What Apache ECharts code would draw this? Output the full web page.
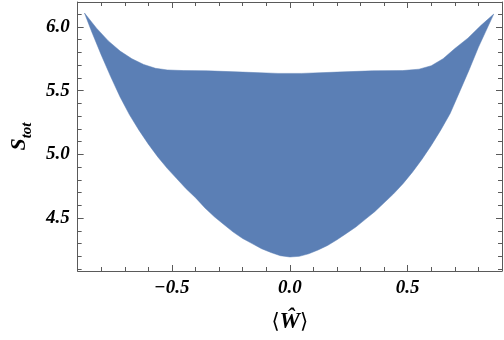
<!DOCTYPE html>
<html>
<head>
<meta charset="utf-8">
<script src="https://cdn.jsdelivr.net/npm/echarts@6/dist/echarts.min.js"></script>
<style>
  html, body { margin: 0; padding: 0; background: #fff; }
  #chart { width: 504px; height: 340px; }
</style>
</head>
<body>
<div id="chart"></div>
<script>
// outline of the point cloud
var upperX = [-0.871, -0.82, -0.77, -0.72, -0.67, -0.62, -0.57, -0.52, -0.45, -0.35, -0.2, -0.05, 0.05, 0.2, 0.35, 0.479, 0.548, 0.60, 0.65, 0.70, 0.755, 0.81, 0.865]
var upperY = [6.108, 5.99, 5.89, 5.81, 5.75, 5.705, 5.675, 5.662, 5.657, 5.655, 5.645, 5.635, 5.635, 5.645, 5.655, 5.657, 5.668, 5.695, 5.75, 5.83, 5.911, 6.01, 6.10]
var lowerX = [-0.871, -0.84, -0.80, -0.76, -0.72, -0.68, -0.64, -0.60, -0.56, -0.52, -0.48, -0.44, -0.40, -0.36, -0.32, -0.28, -0.24, -0.20, -0.16, -0.12, -0.08, -0.04, 0, 0.04, 0.08, 0.12, 0.16, 0.20, 0.24, 0.28, 0.32, 0.36, 0.40, 0.44, 0.48, 0.52, 0.56, 0.60, 0.64, 0.68, 0.72, 0.76, 0.80, 0.84, 0.865]
var lowerY = [6.108, 5.96, 5.78, 5.61, 5.45, 5.31, 5.19, 5.08, 4.98, 4.89, 4.81, 4.73, 4.66, 4.58, 4.51, 4.45, 4.39, 4.34, 4.30, 4.26, 4.23, 4.205, 4.195, 4.20, 4.22, 4.25, 4.285, 4.33, 4.38, 4.43, 4.49, 4.55, 4.62, 4.69, 4.77, 4.86, 4.96, 5.07, 5.19, 5.32, 5.49, 5.66, 5.84, 6.00, 6.10]

// tick positions
var xMajor = [-0.5, 0, 0.5]
var xMinor = [-0.8, -0.7, -0.6, -0.4, -0.3, -0.2, -0.1, 0.1, 0.2, 0.3, 0.4, 0.6, 0.7, 0.8]
var yMajor = [4.5, 5.0, 5.5, 6.0]
var yMinor = [4.1, 4.2, 4.3, 4.4, 4.6, 4.7, 4.8, 4.9, 5.1, 5.2, 5.3, 5.4, 5.6, 5.7, 5.8, 5.9, 6.1]

var frame = '#5a5a5a'
var serif = '"Liberation Serif", "DejaVu Serif", serif'

function fmt (v) {
  if (Math.abs(v) < 1e-9) return '0.0'
  return v < 0 ? '\u2212' + (-v).toFixed(1) : v.toFixed(1)
}

function xAx (pos, ticks, len, main) {
  var labelled = pos === 'bottom' && main
  return {
    type: 'value',
    min: -0.9,
    max: 0.9,
    position: pos,
    axisLine: { show: main, onZero: false, lineStyle: { color: frame, width: 1 } },
    splitLine: { show: false },
    axisTick: { inside: true, length: len, customValues: ticks, lineStyle: { color: frame, width: 1 } },
    axisLabel: labelled
      ? {
          customValues: ticks,
          formatter: fmt,
          margin: 8,
          fontFamily: serif,
          fontWeight: 'bold',
          fontStyle: 'italic',
          fontSize: 19,
          color: '#000'
        }
      : { show: false },
    name: labelled ? '{b|\u27e8}{w|\u0174}{b|\u27e9}' : '',
    nameLocation: 'middle',
    nameGap: 40,
    nameTextStyle: {
      rich: {
        b: { fontFamily: '"DejaVu Serif", serif', fontSize: 21, color: '#000' },
        w: { fontFamily: serif, fontWeight: 'bold', fontStyle: 'italic', fontSize: 23, color: '#000' }
      }
    }
  }
}

function yAx (pos, ticks, len, main) {
  var labelled = pos === 'left' && main
  return {
    type: 'value',
    min: 4.085,
    max: 6.195,
    position: pos,
    axisLine: { show: main, onZero: false, lineStyle: { color: frame, width: 1 } },
    splitLine: { show: false },
    axisTick: { inside: true, length: len, customValues: ticks, lineStyle: { color: frame, width: 1 } },
    axisLabel: labelled
      ? {
          customValues: ticks,
          formatter: function (v) { return v.toFixed(1) },
          margin: 8,
          fontFamily: serif,
          fontWeight: 'bold',
          fontStyle: 'italic',
          fontSize: 19,
          color: '#000'
        }
      : { show: false },
    name: labelled ? '{s|S}{t|tot}' : '',
    nameLocation: 'middle',
    nameRotate: 90,
    nameGap: 47,
    nameTextStyle: {
      rich: {
        s: { fontFamily: serif, fontWeight: 'bold', fontStyle: 'italic', fontSize: 22, color: '#000', lineHeight: 24, verticalAlign: 'bottom' },
        t: { fontFamily: serif, fontWeight: 'bold', fontStyle: 'italic', fontSize: 15, color: '#000', lineHeight: 24, verticalAlign: 'bottom', padding: [0, 0, -5, 0] }
      }
    }
  }
}

var chart = echarts.init(document.getElementById('chart'))
chart.setOption({
  animation: false,
  grid: { left: 66, right: 2, top: 2, bottom: 69 },
  xAxis: [
    xAx('bottom', xMajor, 6, true),
    xAx('bottom', xMinor, 4, false),
    xAx('top', xMajor, 6, true),
    xAx('top', xMinor, 4, false)
  ],
  yAxis: [
    yAx('left', yMajor, 6, true),
    yAx('left', yMinor, 4, false),
    yAx('right', yMajor, 6, true),
    yAx('right', yMinor, 4, false)
  ],
  series: [
    {
      type: 'custom',
      xAxisIndex: 0,
      yAxisIndex: 0,
      clip: true,
      data: [0],
      renderItem: function (params, api) {
        var pts = []
        for (var i = 0; i < upperX.length; i++) pts.push(api.coord([upperX[i], upperY[i]]))
        for (var j = lowerX.length - 1; j >= 0; j--) pts.push(api.coord([lowerX[j], lowerY[j]]))
        return {
          type: 'polygon',
          shape: { points: pts },
          style: { fill: '#5b7fb5', stroke: '#5b7fb5', lineWidth: 0.5 }
        }
      }
    }
  ]
})
</script>
</body>
</html>
